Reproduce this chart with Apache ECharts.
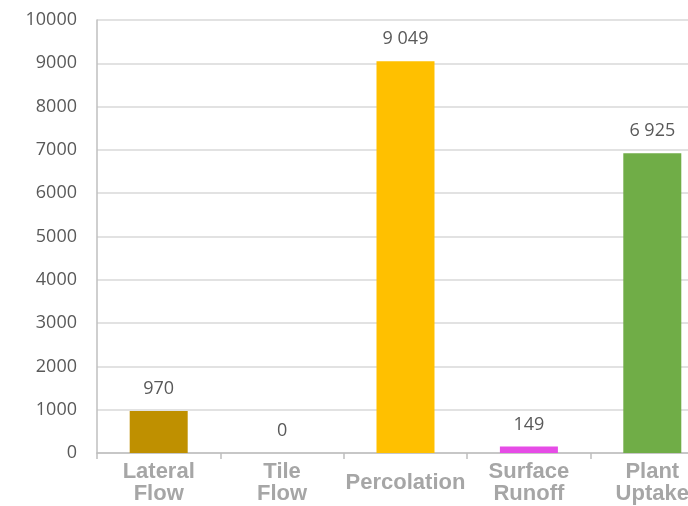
<!DOCTYPE html>
<html>
<head>
<meta charset="utf-8">
<script src="https://cdn.jsdelivr.net/npm/echarts@6/dist/echarts.min.js"></script>
<style>
  html, body { margin: 0; padding: 0; background: #ffffff; }
  #chart { width: 688px; height: 506px; }
</style>
</head>
<body>
<div id="chart"></div>
<script>
// Water balance components
const categories = ['Lateral\nFlow', 'Tile\nFlow', 'Percolation', 'Surface\nRunoff', 'Plant\nUptake'];
const values = [970, 0, 9049, 149, 6925];
const barColors = ['#BF9000', '#A5A5A5', '#FFC000', '#E64CE6', '#70AD47'];
const yTicks = { min: 0, max: 10000, interval: 1000 };

function spaced(n) {
  return String(n).replace(/\B(?=(\d{3})+(?!\d))/g, ' ');
}

const chart = echarts.init(document.getElementById('chart'));
chart.setOption({
  backgroundColor: '#ffffff',
  animation: false,
  grid: { left: 97, top: 20, width: 617, height: 433, containLabel: false, outerBoundsMode: 'none' },
  xAxis: {
    type: 'category',
    data: categories,
    axisLine: { show: true, lineStyle: { color: '#BFBFBF', width: 1.5 } },
    axisTick: { show: true, alignWithLabel: false, length: 6, lineStyle: { color: '#BFBFBF', width: 1.5 } },
    axisLabel: {
      interval: 0,
      margin: 30,
      verticalAlign: 'middle',
      fontFamily: 'Liberation Sans',
      fontWeight: 'bold',
      fontSize: 22,
      lineHeight: 22,
      color: '#A6A6A6'
    }
  },
  yAxis: {
    type: 'value',
    min: yTicks.min,
    max: yTicks.max,
    interval: yTicks.interval,
    axisLine: { show: true, lineStyle: { color: '#BFBFBF', width: 1.5 } },
    axisTick: { show: false },
    splitLine: { show: true, lineStyle: { color: '#D9D9D9', width: 1.5 } },
    axisLabel: {
      margin: 20,
      fontFamily: 'Open Sans',
      fontSize: 18,
      color: '#595959',
      formatter: v => String(v)
    }
  },
  series: [{
    type: 'bar',
    barWidth: '47%',
    data: values.map((v, i) => ({ value: v, itemStyle: { color: barColors[i] } })),
    label: {
      show: true,
      position: 'top',
      distance: 13,
      fontFamily: 'Open Sans',
      fontSize: 18,
      color: '#595959',
      formatter: p => spaced(p.value)
    }
  }]
});
</script>
</body>
</html>
